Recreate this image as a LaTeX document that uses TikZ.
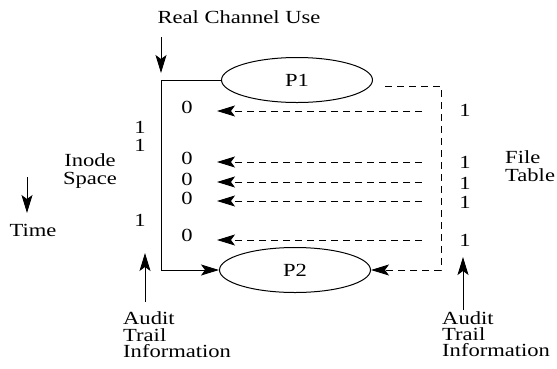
\documentclass[tikz,border=0pt]{standalone}
\usepackage{fontspec}
\setmainfont[FakeStretch=1.22]{Liberation Serif}
\usetikzlibrary{arrows.meta,shapes.geometric}
\begin{document}
\begin{tikzpicture}[x=1pt,y=-1pt,
  font=\fontsize{18.5}{18}\selectfont,
  lbl/.style={inner sep=0pt},
  proc/.style={draw, ellipse, line width=1pt, inner sep=0pt,
               minimum width=151pt, minimum height=45pt},
  tip/.style={-{Stealth[length=18pt,width=11pt,inset=4pt]}},
  flow/.style={line width=1pt},
  dline/.style={line width=1pt, dash pattern=on 7pt off 5pt}]
  \useasboundingbox (0,0) rectangle (557,368);

  % processes
  \node[proc] (p1) at (297,80) {P1};
  \node[proc] (p2) at (295,270) {P2};

  % real channel use
  \node[lbl] (title) at (239,17) {Real Channel Use};
  \coordinate (rcTop) at (161,37);
  \coordinate (rcEnd) at (161,73);
  \draw[flow,tip] (rcTop) -- (rcEnd);

  % real channel: P1 down to P2
  \coordinate (corner) at (161,80);
  \draw[flow] (p1.west) -- (corner);
  \draw[flow,tip] (corner) |- (p2.west);

  % file table side: dashed return path
  \coordinate (dStart) at (385,86);
  \coordinate (dTopRight) at (441,86);
  \coordinate (dBotRight) at (441,270);
  \draw[dline,tip] (dStart) -- (dTopRight) -- (dBotRight) -- (p2.east);

  % inode bits (0) and file table bits (1)
  \foreach \i/\yz/\ya/\yo in {1/107/111/110, 2/158/162/162, 3/179/182/183,
                              4/198/201/202, 5/235/240/240} {
    \node[lbl] (z\i) at (187,\yz) {0};
    \node[lbl] (o\i) at (465,\yo) {1};
    \coordinate (s\i) at (422,\ya);
    \coordinate (e\i) at (217,\ya);
    \draw[dline,tip] (s\i) -- (e\i);
  }

  % inode space bits
  \node[lbl] (l1) at (140,127) {1};
  \node[lbl] (l2) at (140,145) {1};
  \node[lbl] (l3) at (140,220) {1};
  \node[lbl, align=center] (inode) at (90,171) {Inode\\Space};
  \node[lbl, align=left, anchor=west] (ftable) at (505,166) {File\\Table};

  % time
  \coordinate (tTop) at (27,177);
  \coordinate (tEnd) at (27,213);
  \draw[flow,tip] (tTop) -- (tEnd);
  \node[lbl] (time) at (33,230) {Time};

  % audit trail information
  \node[lbl, align=left, anchor=west, font=\fontsize{18.5}{16.5}\selectfont]
    (auditL) at (123,335) {Audit\\Trail\\Information};
  \node[lbl, align=left, anchor=west, font=\fontsize{18.5}{16}\selectfont]
    (auditR) at (442,334) {Audit\\Trail\\Information};
  \coordinate (aL) at (145,302);
  \coordinate (aLe) at (145,253);
  \draw[flow,tip] (aL) -- (aLe);
  \coordinate (aR) at (463,310);
  \coordinate (aRe) at (463,257);
  \draw[flow,tip] (aR) -- (aRe);
\end{tikzpicture}
\end{document}
